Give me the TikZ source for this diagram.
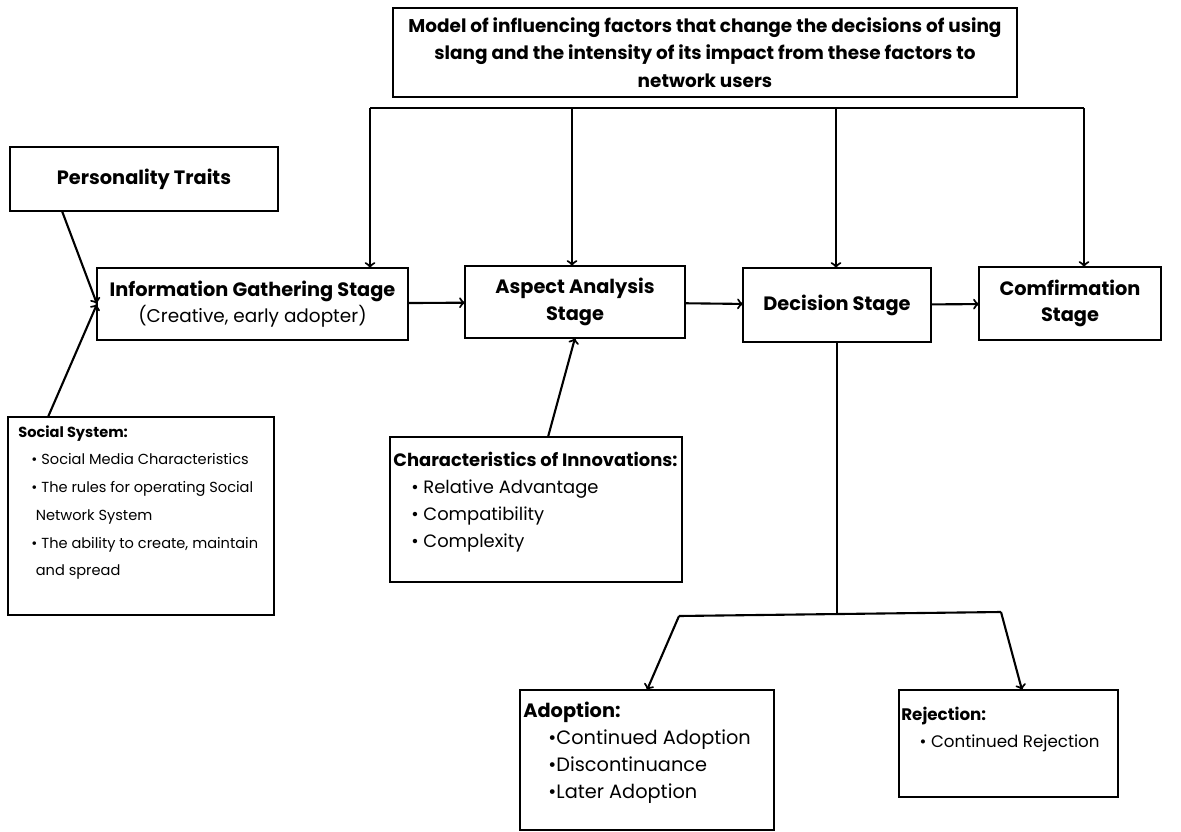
\documentclass[tikz,border=0pt]{standalone}
\usepackage{fontspec}
\setmainfont{Poppins}
\usepackage{tikz}
\usetikzlibrary{arrows}

\newcommand{\stagefont}{\fontsize{11}{14.6}\selectfont}
\newcommand{\titlefont}{\fontsize{10.5}{15.6}\selectfont}

\tikzset{
  stage/.style={draw, line width=1.2pt, inner sep=0pt, outer sep=0pt, align=center, font=\stagefont\bfseries},
  plainbox/.style={draw, line width=1.2pt, inner sep=0pt, outer sep=0pt},
  listtext/.style={anchor=north west, inner sep=0pt, align=left},
  link/.style={->, line width=1.2pt},
}

\begin{document}
\begin{tikzpicture}[x=0.02cm, y=-0.02cm]

\useasboundingbox (0,0) rectangle (1181,832);

% title box
\node[stage, font=\titlefont\bfseries, minimum width=12.48cm, minimum height=1.78cm] (model) at (705,52.5)
  {Model of influencing factors that change the decisions of using\\
   slang and the intensity of its impact from these factors to\\
   network users};

% stages
\node[stage, minimum width=5.36cm, minimum height=1.28cm] (traits) at (144,179) {Personality Traits};
\node[stage, minimum width=6.22cm, minimum height=1.44cm] (gather) at (252.5,304)
  {Information Gathering Stage\\ \fontsize{10.5}{14.6}\selectfont\mdseries (Creative, early adopter)};
\node[stage, font=\fontsize{11}{15.6}\selectfont\bfseries, minimum width=4.4cm, minimum height=1.44cm] (aspect) at (575,302) {Aspect Analysis\\ Stage};
\node[stage, minimum width=3.76cm, minimum height=1.48cm] (decision) at (837,305) {Decision Stage};
\node[stage, minimum width=3.64cm, minimum height=1.46cm] (confirm) at (1070,303.5) {Comfirmation\\ Stage};

% boxes with lists
\node[plainbox, minimum width=5.32cm, minimum height=3.96cm] (social) at (141,516) {};
\node[listtext, font=\fontsize{8.3}{15.8}\selectfont] (socialtext) at (18,425)
  {\textbf{Social System:}\\
   \hspace{0.9em}\textbullet\ Social Media Characteristics\\
   \hspace{0.9em}\textbullet\ The rules for operating Social\\
   \hspace{1.2em}Network System\\
   \hspace{0.9em}\textbullet\ The ability to create, maintain\\
   \hspace{1.2em}and spread};

\node[plainbox, minimum width=5.84cm, minimum height=2.9cm] (innov) at (536,509.5) {};
\node[listtext, font=\fontsize{10.2}{15.3}\selectfont] (innovtext) at (393,452)
  {\textbf{Characteristics of Innovations:}\\
   \hspace{1.0em}\textbullet\ Relative Advantage\\
   \hspace{1.0em}\textbullet\ Compatibility\\
   \hspace{1.0em}\textbullet\ Complexity};

\node[plainbox, minimum width=5.08cm, minimum height=2.8cm] (adopt) at (647,760) {};
\node[listtext, font=\fontsize{11}{15.3}\selectfont] (adopttext) at (523,702)
  {\textbf{Adoption:}\\
   \hspace{1.3em}\textbullet Continued Adoption\\
   \hspace{1.3em}\textbullet Discontinuance\\
   \hspace{1.3em}\textbullet Later Adoption};

\node[plainbox, minimum width=4.38cm, minimum height=2.14cm] (reject) at (1008.5,743.5) {};
\node[listtext, font=\fontsize{9.5}{15.5}\selectfont] (rejecttext) at (901,707)
  {\textbf{Rejection:}\\
   \hspace{1.1em}\textbullet\ Continued Rejection};

% bus from the title
\coordinate (busA) at (370,108);
\coordinate (busB) at (572,108);
\coordinate (busC) at (836,108);
\coordinate (busD) at (1084,108);
\draw[line width=1.2pt] (busA) -- (busD);
\draw[link] (busA) -- (busA |- gather.north);
\draw[link] (busB) -- (busB |- aspect.north);
\draw[link] (busC) -- (busC |- decision.north);
\draw[link] (busD) -- (busD |- confirm.north);

% inputs
\coordinate (traitsOut) at (62,211);
\coordinate (socialOut) at (48,417);
\coordinate (innovOut) at (548,437);
\draw[link] (traitsOut) -- (gather.west);
\draw[link] (socialOut) -- (gather.west);
\draw[link] (innovOut) -- (aspect.south);

% stage chain
\draw[link] (gather) -- (aspect);
\draw[link] (aspect) -- (decision);
\draw[link] (decision) -- (confirm);

% split after decision
\coordinate (split) at (837,614);
\coordinate (splitL) at (679,616);
\coordinate (splitR) at (1001,612);
\coordinate (rejectIn) at (1022,690);
\draw[line width=1.2pt] (decision.south) -- (split);
\draw[line width=1.2pt] (splitL) -- (splitR);
\draw[link] (splitL) -- (adopt.north);
\draw[link] (splitR) -- (rejectIn);

\end{tikzpicture}
\end{document}
